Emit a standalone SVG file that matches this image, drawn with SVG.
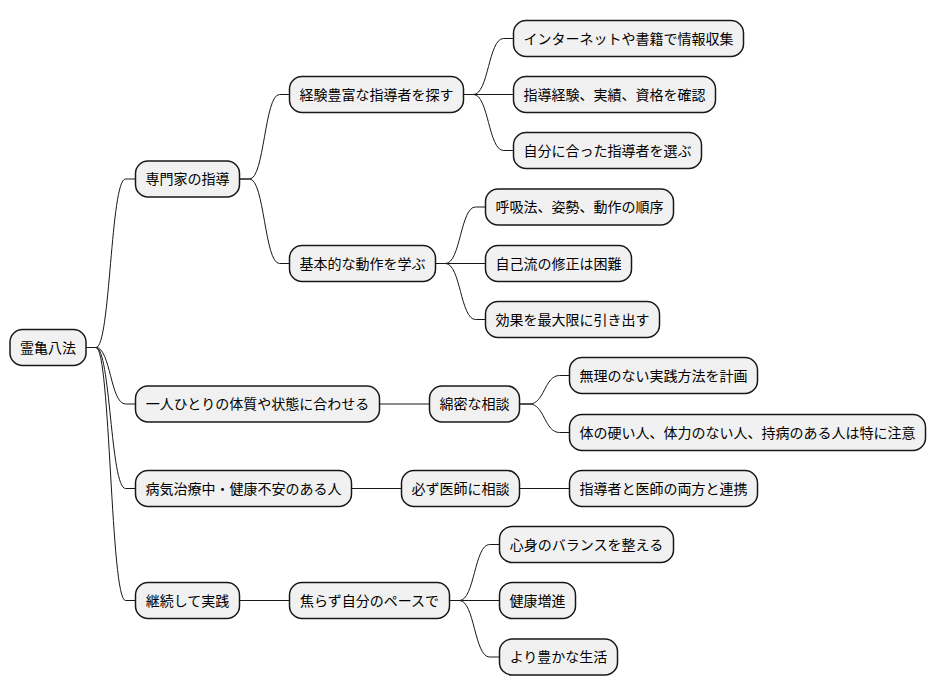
<svg xmlns="http://www.w3.org/2000/svg" width="936" height="696" viewBox="0 0 936 696">
<style>
.n rect{fill:#F1F1F1;stroke:#181818;stroke-width:1.5}
.n text{font-family:"Noto Sans CJK JP","Noto Sans CJK SC",sans-serif;font-size:14px;fill:#000;text-anchor:middle}
.c path{fill:none;stroke:#181818;stroke-width:1}
</style>
<rect width="936" height="696" fill="#fff"/>
<g class="c" id="connectors">
<path d="M86,347.5 L96,347.5 C110.5,347.5 110.5,179 125.5,179 L135.5,179"/>
<path d="M86,347.5 L96,347.5 C110.5,347.5 110.5,404 125.5,404 L135.5,404"/>
<path d="M86,347.5 L96,347.5 C110.5,347.5 110.5,488.5 125.5,488.5 L135.5,488.5"/>
<path d="M86,347.5 L96,347.5 C110.5,347.5 110.5,600.5 125.5,600.5 L135.5,600.5"/>
<path d="M239.5,179 L249.5,179 C264.5,179 264.5,94.5 279.5,94.5 L289.5,94.5"/>
<path d="M239.5,179 L249.5,179 C264.5,179 264.5,263.5 279.5,263.5 L289.5,263.5"/>
<path d="M463.5,94.5 L473.5,94.5 C488.5,94.5 488.5,38.5 503.5,38.5 L513.5,38.5"/>
<path d="M463.5,94.5 L513.5,94.5"/>
<path d="M463.5,94.5 L473.5,94.5 C488.5,94.5 488.5,150.5 503.5,150.5 L513.5,150.5"/>
<path d="M435.5,263.5 L445.5,263.5 C460.5,263.5 460.5,207 475.5,207 L485.5,207"/>
<path d="M435.5,263.5 L485.5,263.5"/>
<path d="M435.5,263.5 L445.5,263.5 C460.5,263.5 460.5,319.5 475.5,319.5 L485.5,319.5"/>
<path d="M379.5,404 L429.5,404"/>
<path d="M519.5,404 L529.5,404 C544.5,404 544.5,375.5 559.5,375.5 L569.5,375.5"/>
<path d="M519.5,404 L529.5,404 C544.5,404 544.5,432.5 559.5,432.5 L569.5,432.5"/>
<path d="M351.5,488.5 L401.5,488.5"/>
<path d="M519.5,488.5 L569.5,488.5"/>
<path d="M239.5,600.5 L289.5,600.5"/>
<path d="M449.5,600.5 L459.5,600.5 C474.5,600.5 474.5,544.5 489.5,544.5 L499.5,544.5"/>
<path d="M449.5,600.5 L499.5,600.5"/>
<path d="M449.5,600.5 L459.5,600.5 C474.5,600.5 474.5,657 489.5,657 L499.5,657"/>
</g>
<g class="n" id="root"><rect x="10" y="329.5" width="76" height="36" rx="12.5"/><text x="48" y="352.5">霊亀八法</text></g>
<g class="n" id="n1"><rect x="135.5" y="161" width="104" height="36" rx="12.5"/><text x="187.5" y="184">専門家の指導</text></g>
<g class="n" id="n11"><rect x="289.5" y="76.5" width="174" height="36" rx="12.5"/><text x="376.5" y="99.5">経験豊富な指導者を探す</text></g>
<g class="n" id="n111"><rect x="513.5" y="20.5" width="230" height="36" rx="12.5"/><text x="628.5" y="43.5">インターネットや書籍で情報収集</text></g>
<g class="n" id="n112"><rect x="513.5" y="76.5" width="202" height="36" rx="12.5"/><text x="614.5" y="99.5">指導経験、実績、資格を確認</text></g>
<g class="n" id="n113"><rect x="513.5" y="132.5" width="188" height="36" rx="12.5"/><text x="607.5" y="155.5">自分に合った指導者を選ぶ</text></g>
<g class="n" id="n12"><rect x="289.5" y="245.5" width="146" height="36" rx="12.5"/><text x="362.5" y="268.5">基本的な動作を学ぶ</text></g>
<g class="n" id="n121"><rect x="485.5" y="189" width="188" height="36" rx="12.5"/><text x="579.5" y="212">呼吸法、姿勢、動作の順序</text></g>
<g class="n" id="n122"><rect x="485.5" y="245.5" width="146" height="36" rx="12.5"/><text x="558.5" y="268.5">自己流の修正は困難</text></g>
<g class="n" id="n123"><rect x="485.5" y="301.5" width="174" height="36" rx="12.5"/><text x="572.5" y="324.5">効果を最大限に引き出す</text></g>
<g class="n" id="n2"><rect x="135.5" y="386" width="244" height="36" rx="12.5"/><text x="257.5" y="409">一人ひとりの体質や状態に合わせる</text></g>
<g class="n" id="n21"><rect x="429.5" y="386" width="90" height="36" rx="12.5"/><text x="474.5" y="409">綿密な相談</text></g>
<g class="n" id="n211"><rect x="569.5" y="357.5" width="188" height="36" rx="12.5"/><text x="663.5" y="380.5">無理のない実践方法を計画</text></g>
<g class="n" id="n212"><rect x="569.5" y="414.5" width="356" height="36" rx="12.5"/><text x="747.5" y="437.5">体の硬い人、体力のない人、持病のある人は特に注意</text></g>
<g class="n" id="n3"><rect x="135.5" y="470.5" width="216" height="36" rx="12.5"/><text x="243.5" y="493.5">病気治療中・健康不安のある人</text></g>
<g class="n" id="n31"><rect x="401.5" y="470.5" width="118" height="36" rx="12.5"/><text x="460.5" y="493.5">必ず医師に相談</text></g>
<g class="n" id="n311"><rect x="569.5" y="470.5" width="188" height="36" rx="12.5"/><text x="663.5" y="493.5">指導者と医師の両方と連携</text></g>
<g class="n" id="n4"><rect x="135.5" y="582.5" width="104" height="36" rx="12.5"/><text x="187.5" y="605.5">継続して実践</text></g>
<g class="n" id="n41"><rect x="289.5" y="582.5" width="160" height="36" rx="12.5"/><text x="369.5" y="605.5">焦らず自分のペースで</text></g>
<g class="n" id="n411"><rect x="499.5" y="526.5" width="174" height="36" rx="12.5"/><text x="586.5" y="549.5">心身のバランスを整える</text></g>
<g class="n" id="n412"><rect x="499.5" y="582.5" width="76" height="36" rx="12.5"/><text x="537.5" y="605.5">健康増進</text></g>
<g class="n" id="n413"><rect x="499.5" y="639" width="118" height="36" rx="12.5"/><text x="558.5" y="662">より豊かな生活</text></g>
</svg>
